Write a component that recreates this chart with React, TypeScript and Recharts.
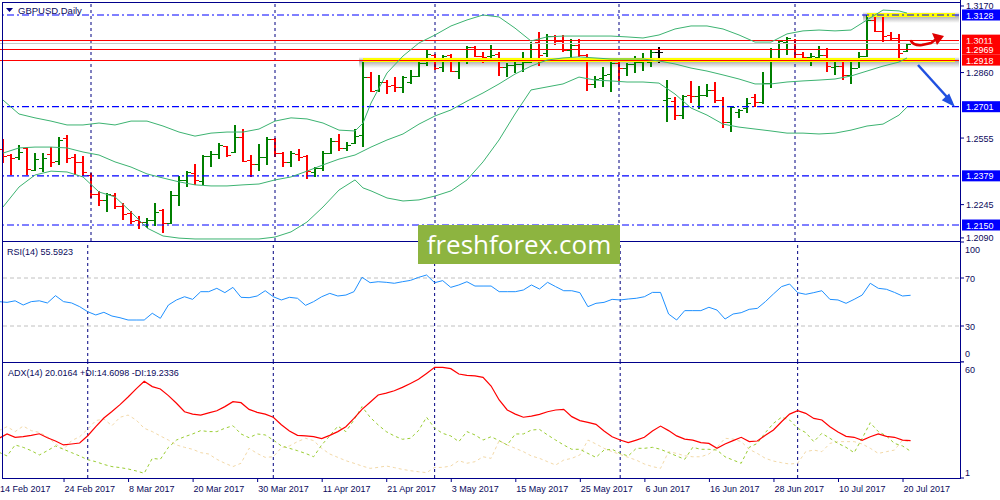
import React from 'react';
import { ComposedChart, Bar, Line, XAxis, YAxis, ReferenceLine, ReferenceArea } from 'recharts';

const FONT = '"Liberation Sans", Arial, sans-serif';
const FRAME = '#00008b';
const TEXT = '#0a0a5c';
const BULL = '#007f00';
const BEAR = '#ff0000';
const BB = '#3cb371';

// x axis labels, one every 8 daily bars
const tickLabels = [
  '14 Feb 2017', '24 Feb 2017', '8 Mar 2017', '20 Mar 2017', '30 Mar 2017',
  '11 Apr 2017', '21 Apr 2017', '3 May 2017', '15 May 2017', '25 May 2017',
  '6 Jun 2017', '16 Jun 2017', '28 Jun 2017', '10 Jul 2017', '20 Jul 2017',
];
// first bar of each month (period separators)
const monthStarts = [11, 34, 54, 77, 99];

const open = [
  1.2504, 1.2476, 1.2467, 1.2508, 1.2406, 1.2416, 1.2481, 1.2448, 1.2555, 1.2467,
  1.2443, 1.2383, 1.2294, 1.2266, 1.2290, 1.2238, 1.2206, 1.2173, 1.2164, 1.2173,
  1.2220, 1.2159, 1.2290, 1.2360, 1.2392, 1.2355, 1.2471, 1.2481, 1.2518, 1.2490,
  1.2560, 1.2453, 1.2434, 1.2467, 1.2551, 1.2485, 1.2443, 1.2481, 1.2471, 1.2397,
  1.2416, 1.2485, 1.2541, 1.2509, 1.2532, 1.2569, 1.2839, 1.2779, 1.2816, 1.2802,
  1.2793, 1.2816, 1.2844, 1.2905, 1.2942, 1.2886, 1.2942, 1.2867, 1.2918, 1.2979,
  1.2937, 1.2937, 1.2947, 1.2886, 1.2895, 1.2900, 1.2909, 1.3002, 1.2951, 1.3030,
  1.3007, 1.2965, 1.2988, 1.2942, 1.2807, 1.2835, 1.2853, 1.2905, 1.2881, 1.2900,
  1.2909, 1.2909, 1.2956, 1.2732, 1.2728, 1.2662, 1.2755, 1.2751, 1.2755, 1.2779,
  1.2732, 1.2630, 1.2676, 1.2695, 1.2746, 1.2723, 1.2811, 1.2928, 1.3002, 1.3012,
  1.2947, 1.2933, 1.2933, 1.2942, 1.2886, 1.2891, 1.2849, 1.2881, 1.2937, 1.3105,
  1.3054, 1.3035, 1.3021, 1.2961,
];
const high = [
  1.2551, 1.2481, 1.2523, 1.2513, 1.2485, 1.2485, 1.2513, 1.2560, 1.2569, 1.2481,
  1.2471, 1.2392, 1.2308, 1.2299, 1.2299, 1.2252, 1.2215, 1.2192, 1.2183, 1.2252,
  1.2224, 1.2308, 1.2378, 1.2402, 1.2434, 1.2476, 1.2495, 1.2532, 1.2518, 1.2616,
  1.2597, 1.2476, 1.2527, 1.2560, 1.2555, 1.2490, 1.2495, 1.2504, 1.2476, 1.2420,
  1.2495, 1.2555, 1.2574, 1.2537, 1.2597, 1.2909, 1.2863, 1.2849, 1.2825, 1.2839,
  1.2844, 1.2872, 1.2914, 1.2965, 1.2947, 1.2942, 1.2947, 1.2923, 1.2984, 1.2984,
  1.2956, 1.2988, 1.2956, 1.2905, 1.2923, 1.2956, 1.3002, 1.3049, 1.3040, 1.3035,
  1.3035, 1.3016, 1.3016, 1.2947, 1.2844, 1.2886, 1.2923, 1.2923, 1.2905, 1.2937,
  1.2951, 1.2970, 1.2979, 1.2825, 1.2746, 1.2755, 1.2821, 1.2797, 1.2807, 1.2816,
  1.2746, 1.2704, 1.2690, 1.2742, 1.2760, 1.2863, 1.2975, 1.3012, 1.3026, 1.3016,
  1.2956, 1.2951, 1.2984, 1.2975, 1.2909, 1.2918, 1.2909, 1.2956, 1.3126, 1.3119,
  1.3126, 1.3049, 1.3040, 1.2998,
];
const low = [
  1.2439, 1.2383, 1.2453, 1.2383, 1.2402, 1.2397, 1.2420, 1.2430, 1.2439, 1.2383,
  1.2378, 1.2276, 1.2238, 1.2210, 1.2224, 1.2173, 1.2155, 1.2131, 1.2136, 1.2145,
  1.2113, 1.2155, 1.2238, 1.2327, 1.2336, 1.2336, 1.2420, 1.2457, 1.2467, 1.2485,
  1.2443, 1.2374, 1.2402, 1.2430, 1.2467, 1.2420, 1.2420, 1.2448, 1.2364, 1.2374,
  1.2402, 1.2481, 1.2495, 1.2495, 1.2527, 1.2513, 1.2770, 1.2770, 1.2760, 1.2770,
  1.2765, 1.2807, 1.2839, 1.2891, 1.2872, 1.2863, 1.2863, 1.2830, 1.2900, 1.2933,
  1.2905, 1.2923, 1.2844, 1.2839, 1.2858, 1.2863, 1.2905, 1.2891, 1.2933, 1.2988,
  1.2956, 1.2928, 1.2933, 1.2774, 1.2788, 1.2793, 1.2770, 1.2821, 1.2844, 1.2858,
  1.2867, 1.2886, 1.2905, 1.2630, 1.2639, 1.2644, 1.2718, 1.2690, 1.2746, 1.2718,
  1.2602, 1.2583, 1.2649, 1.2672, 1.2700, 1.2714, 1.2788, 1.2918, 1.2942, 1.2918,
  1.2918, 1.2891, 1.2914, 1.2863, 1.2849, 1.2825, 1.2807, 1.2881, 1.2933, 1.3049,
  1.3002, 1.3012, 1.2928, 1.2956,
];
const close = [
  1.2471, 1.2462, 1.2490, 1.2411, 1.2457, 1.2462, 1.2443, 1.2546, 1.2462, 1.2443,
  1.2397, 1.2294, 1.2266, 1.2294, 1.2238, 1.2201, 1.2169, 1.2164, 1.2173, 1.2211,
  1.2159, 1.2290, 1.2360, 1.2397, 1.2360, 1.2471, 1.2481, 1.2523, 1.2476, 1.2560,
  1.2448, 1.2434, 1.2467, 1.2551, 1.2485, 1.2443, 1.2485, 1.2467, 1.2402, 1.2416,
  1.2485, 1.2541, 1.2509, 1.2523, 1.2565, 1.2839, 1.2774, 1.2816, 1.2797, 1.2793,
  1.2839, 1.2844, 1.2905, 1.2947, 1.2881, 1.2937, 1.2867, 1.2918, 1.2979, 1.2937,
  1.2933, 1.2942, 1.2886, 1.2895, 1.2900, 1.2909, 1.2998, 1.2942, 1.3030, 1.3007,
  1.2965, 1.2988, 1.2942, 1.2807, 1.2830, 1.2849, 1.2905, 1.2881, 1.2900, 1.2909,
  1.2914, 1.2956, 1.2956, 1.2742, 1.2662, 1.2751, 1.2751, 1.2755, 1.2779, 1.2732,
  1.2630, 1.2700, 1.2686, 1.2718, 1.2723, 1.2811, 1.2928, 1.3007, 1.3021, 1.2947,
  1.2933, 1.2937, 1.2942, 1.2891, 1.2891, 1.2849, 1.2881, 1.2937, 1.3105, 1.3054,
  1.3030, 1.3021, 1.2951, 1.2994,
];

const bbUpper = [
  1.2732, null, 1.2667, null, 1.2649, null, 1.2634, null, 1.2616, null,
  1.2616, null, 1.2625, null, 1.2616, null, 1.2634, null, 1.2634, null,
  1.2611, null, 1.2583, null, 1.2564, null, 1.2578, null, 1.2583, null,
  1.2583, null, 1.2597, null, 1.2634, null, 1.2649, null, 1.2644, null,
  1.2625, null, 1.2592, null, 1.2588, 1.2625, 1.2718, null, 1.2858, null,
  1.2937, null, 1.2998, null, 1.3035, null, 1.3077, null, 1.3105, null,
  1.3128, null, 1.3119, null, 1.3067, null, 1.3007, null, 1.3026, null,
  1.3030, null, 1.3030, null, 1.3030, null, 1.3030, null, 1.3026, null,
  1.3021, null, 1.3035, null, 1.3063, null, 1.3077, null, 1.3077, null,
  1.3063, null, 1.3035, null, 1.3002, null, 1.3002, null, 1.3040, null,
  1.3054, null, 1.3058, null, 1.3054, null, 1.3058, null, 1.3105, null,
  1.3151, null, 1.3147, 1.3137,
];
const bbMiddle = [
  1.2485, null, 1.2509, null, 1.2513, null, 1.2513, null, 1.2509, null,
  1.2490, null, 1.2476, null, 1.2444, null, 1.2420, null, 1.2388, null,
  1.2369, null, 1.2351, null, 1.2337, null, 1.2332, null, 1.2332, null,
  1.2337, null, 1.2341, null, 1.2360, null, 1.2374, null, 1.2401, null,
  1.2430, null, 1.2457, null, 1.2476, null, 1.2513, null, 1.2546, null,
  1.2574, null, 1.2620, null, 1.2658, null, 1.2686, null, 1.2727, null,
  1.2765, null, 1.2807, null, 1.2853, null, 1.2890, null, 1.2918, null,
  1.2928, null, 1.2933, null, 1.2928, null, 1.2923, null, 1.2923, null,
  1.2923, null, 1.2914, null, 1.2900, null, 1.2881, null, 1.2867, null,
  1.2849, null, 1.2830, null, 1.2807, null, 1.2807, null, 1.2816, null,
  1.2821, null, 1.2825, null, 1.2830, null, 1.2844, null, 1.2867, null,
  1.2890, null, 1.2909, 1.2928,
];
const bbLower = [
  1.2234, null, 1.2327, null, 1.2383, null, 1.2401, null, 1.2397, null,
  1.2374, null, 1.2304, null, 1.2281, null, 1.2211, null, 1.2136, null,
  1.2099, null, 1.2089, null, 1.2085, null, 1.2085, null, 1.2085, null,
  1.2085, null, 1.2085, null, 1.2094, null, 1.2118, null, 1.2164, null,
  1.2234, null, 1.2313, null, 1.2360, 1.2323, 1.2309, null, 1.2276, null,
  1.2262, null, 1.2267, null, 1.2285, null, 1.2309, null, 1.2360, null,
  1.2444, null, 1.2546, null, 1.2667, null, 1.2779, null, 1.2793, null,
  1.2807, null, 1.2839, null, 1.2825, null, 1.2821, null, 1.2816, null,
  1.2816, null, 1.2811, null, 1.2760, null, 1.2695, null, 1.2662, null,
  1.2620, null, 1.2606, null, 1.2597, null, 1.2588, null, 1.2578, null,
  1.2578, null, 1.2574, null, 1.2578, null, 1.2592, null, 1.2611, null,
  1.2620, null, 1.2662, 1.2699,
];

const rsi = [
  50.3, 49.7, 51.0, 47.5, 50.3, 51.0, 49.2, 55.3, 50.3, 49.2,
  46.1, 41.9, 39.2, 41.4, 38.3, 36.9, 35.0, 35.0, 35.0, 40.6,
  36.4, 47.5, 51.7, 54.4, 52.2, 58.6, 58.6, 61.4, 57.8, 62.2,
  53.9, 53.6, 55.0, 59.4, 54.4, 51.7, 53.9, 53.1, 47.2, 50.3,
  54.4, 57.2, 55.0, 55.8, 58.6, 70.6, 66.1, 66.9, 66.4, 65.6,
  66.9, 68.0, 70.5, 72.5, 66.1, 67.8, 62.2, 64.2, 66.9, 63.3,
  63.3, 63.3, 58.6, 58.6, 58.6, 60.0, 64.2, 60.8, 66.4, 62.8,
  59.4, 59.4, 57.8, 46.1, 48.9, 49.7, 52.2, 51.7, 52.5, 53.1,
  54.4, 58.0, 58.0, 40.0, 35.0, 42.8, 42.8, 42.8, 45.6, 43.3,
  35.8, 40.0, 41.1, 43.9, 44.7, 50.3, 56.7, 62.8, 65.0, 57.8,
  56.4, 57.8, 59.4, 52.2, 51.7, 48.9, 52.2, 55.8, 65.6, 61.4,
  60.6, 58.0, 55.0, 55.6,
];
const adx = [
  21.2, 23.4, 21.7, 22.0, 22.7, 23.5, 21.5, 19.8, 17.8, 18.3,
  18.8, 22.5, 27.1, 31.5, 34.8, 38.3, 42.2, 46.3, 50.2, 47.5,
  46.3, 42.9, 39.0, 34.7, 33.5, 33.0, 34.1, 35.2, 37.3, 39.8,
  39.3, 35.9, 34.4, 33.5, 31.9, 28.1, 24.9, 22.7, 22.4, 22.0,
  21.0, 22.7, 24.6, 27.1, 31.3, 35.9, 39.5, 43.2, 44.2, 45.4,
  47.1, 49.1, 51.2, 54.2, 57.3, 57.3, 56.6, 53.9, 53.2, 52.9,
  52.2, 47.8, 40.7, 35.6, 33.5, 31.9, 32.5, 33.4, 34.7, 35.6,
  35.9, 32.2, 30.2, 29.3, 28.3, 24.9, 22.0, 20.3, 19.0, 20.3,
  21.7, 24.9, 27.4, 25.1, 22.4, 20.8, 20.3, 19.0, 18.6, 16.1,
  18.3, 20.0, 21.7, 19.5, 19.8, 22.7, 25.4, 29.6, 33.5, 35.2,
  33.9, 31.3, 30.5, 27.1, 24.4, 22.2, 21.7, 20.2, 22.0, 23.4,
  22.2, 21.7, 20.3, 20.0,
];
const plusDi = [
  14.1, 12.2, 17.8, 16.6, 14.9, 12.7, 14.9, 17.3, 15.6, 13.9,
  12.2, 10.3, 9.3, 7.9, 6.8, 6.3, 5.6, 4.6, 3.4, 11.0,
  10.5, 16.6, 20.3, 22.0, 23.4, 25.1, 24.6, 24.6, 26.3, 27.6,
  23.4, 21.5, 23.4, 22.9, 20.3, 17.3, 16.1, 14.9, 13.5, 11.8,
  17.8, 22.4, 27.4, 24.6, 30.5, 37.3, 31.9, 28.0, 24.6, 22.4,
  20.7, 21.2, 25.1, 31.9, 26.3, 23.7, 22.4, 19.5, 24.6, 22.9,
  20.3, 22.0, 20.0, 17.8, 23.4, 23.4, 25.4, 25.7, 22.9, 20.3,
  17.8, 15.6, 15.6, 13.5, 11.5, 15.2, 15.6, 13.5, 12.2, 16.1,
  16.1, 16.6, 15.6, 13.9, 12.2, 10.5, 16.6, 15.6, 15.6, 15.2,
  11.8, 10.1, 8.5, 16.6, 18.6, 24.1, 28.8, 31.9, 30.5, 26.3,
  24.1, 19.5, 23.7, 21.2, 18.6, 16.6, 13.9, 21.2, 29.1, 24.6,
  22.4, 18.6, 17.3, 14.6,
];
const minusDi = [
  25.1, 27.1, 24.6, 27.4, 25.1, 24.2, 22.0, 18.3, 15.6, 20.0,
  22.0, 25.9, 30.2, 31.0, 27.6, 31.9, 33.0, 30.5, 26.3, 24.6,
  22.4, 20.3, 17.8, 16.6, 15.6, 13.9, 13.2, 10.5, 8.5, 6.8,
  8.5, 16.1, 13.5, 11.5, 11.8, 16.4, 17.3, 19.5, 21.2, 20.0,
  16.1, 13.2, 11.5, 9.8, 8.5, 7.1, 5.9, 6.4, 7.1, 6.3,
  5.4, 4.7, 4.2, 3.7, 6.4, 6.4, 7.1, 9.8, 8.5, 9.3,
  11.8, 11.0, 20.0, 17.8, 16.1, 14.4, 12.2, 11.0, 9.3, 7.6,
  10.1, 11.0, 12.7, 20.3, 18.3, 16.1, 14.4, 13.0, 11.5, 10.1,
  8.1, 6.8, 5.9, 14.4, 13.5, 12.3, 11.8, 11.8, 13.2, 16.6,
  21.2, 20.8, 19.5, 15.6, 13.5, 11.0, 9.6, 8.8, 8.1, 8.5,
  14.4, 15.2, 14.4, 18.6, 19.5, 19.5, 19.5, 18.3, 16.1, 13.5,
  14.4, 15.2, 20.3, 19.2,
];

const priceTicks = [1.209, 1.2245, 1.2555, 1.286, 1.317];
const redLevels = [1.3011, 1.2969, 1.2918];
const blueLevels = [1.3128, 1.2701, 1.2379, 1.215];
const bidLine = close[close.length - 1];

// 114 bars plus empty slots for the chart shift on the right
const SLOTS = 120;
const rows = Array.from({ length: SLOTS }, (_, i) =>
  i < open.length
    ? {
        i,
        range: [low[i], high[i]],
        o: open[i], h: high[i], l: low[i], c: close[i],
        up: bbUpper[i], mid: bbMiddle[i], dn: bbLower[i],
        rsi: rsi[i], adx: adx[i], pdi: plusDi[i], mdi: minusDi[i],
      }
    : { i }
);
const tickIdx = tickLabels.map((_, k) => k * 8);

const OhlcShape = (props: any) => {
  const { x, y, width, height, payload } = props;
  if (!payload || payload.c == null) return null;
  const { o, h, l, c } = payload;
  const top = Math.min(y, y + height);
  const span = Math.abs(height);
  const toY = (v: number) => Math.round(top + ((h - v) / (h - l)) * span);
  const cx = Math.round(x + width / 2);
  const color = c > o ? BULL : c < o ? BEAR : '#000000';
  const yTop = Math.round(top);
  const yBot = Math.round(top + span);
  return (
    <g shapeRendering="crispEdges">
      <rect x={cx - 1} y={yTop} width={2} height={Math.max(1, yBot - yTop)} fill={color} />
      <rect x={cx - 4} y={toY(o)} width={3} height={1} fill={color} />
      <rect x={cx + 1} y={toY(c)} width={3} height={1} fill={color} />
    </g>
  );
};

const PriceTick = (props: any) => {
  const { x, y, payload } = props;
  return (
    <g>
      <line x1={x + 2} x2={x + 5} y1={y} y2={y} stroke={FRAME} />
      <text x={x + 7} y={y + 3.5} fontSize={9} fill={TEXT} fontFamily={FONT}>
        {Number(payload.value).toFixed(4)}
      </text>
    </g>
  );
};

const makeOscTick = (topVal: number, bottomVal: number, bottomDy: number) => (props: any) => {
  const { x, y, payload } = props;
  const v = payload.value;
  const dy = v === topVal ? 7 : v === bottomVal ? bottomDy : 0;
  return (
    <g>
      <line x1={x + 2} x2={x + 5} y1={y} y2={y} stroke={FRAME} />
      <text x={x + 6} y={y + dy + 3.5} fontSize={9} fill={TEXT} fontFamily={FONT}>
        {v}
      </text>
    </g>
  );
};

const DateTick = (props: any) => {
  const { x, y, payload } = props;
  const label = tickLabels[Math.round(payload.value / 8)];
  return (
    <g>
      <line x1={x + 0.5} x2={x + 0.5} y1={y} y2={y + 4} stroke={FRAME} />
      <text x={x + 1} y={y + 14} fontSize={9} fill={TEXT} fontFamily={FONT}>
        {label}
      </text>
    </g>
  );
};

const boxLabel = (text: string, bg: string) => (props: any) => {
  const vb = props.viewBox || {};
  const x0 = (vb.x ?? 0) + (vb.width ?? 0);
  const yc = vb.y ?? 0;
  return (
    <g>
      <rect x={x0 + 3} y={yc - 5.5} width={42} height={11} fill={bg} />
      <text x={x0 + 7} y={yc + 3.5} fill="#ffffff" fontSize={9} fontFamily={FONT}>
        {text}
      </text>
    </g>
  );
};

const monthLines = monthStarts.map((m) => (
  <ReferenceLine key={`m${m}`} x={m} stroke="#000080" strokeDasharray="3 3" />
));

const App = () => {
  return (
    <div style={{ position: 'absolute', left: 0, top: 0, width: 1000, height: 500, background: '#ffffff', overflow: 'hidden' }}>
      {/* price panel */}
      <div style={{ position: 'absolute', left: -1, top: 0 }}>
        <ComposedChart width={1001} height={242} data={rows} margin={{ top: 2, right: 0, bottom: 1, left: 0 }} barCategoryGap={0} barGap={0}>
          <defs>
            <linearGradient id="glow" x1="0" y1="0" x2="0" y2="1">
              <stop offset="0%" stopColor="#707070" stopOpacity={0} />
              <stop offset="35%" stopColor="#707070" stopOpacity={0.6} />
              <stop offset="100%" stopColor="#707070" stopOpacity={0} />
            </linearGradient>
          </defs>
          <XAxis dataKey="i" hide />
          <YAxis
            orientation="right"
            width={41}
            domain={[1.20756, 1.31886]}
            allowDataOverflow
            ticks={priceTicks}
            interval={0}
            tick={PriceTick}
            tickSize={0}
            tickMargin={0}
            axisLine={false}
            tickLine={false}
          />
          {monthLines}
          <ReferenceArea x1={45} x2={119} y1={1.2881} y2={1.2932} fill="url(#glow)" fillOpacity={1} stroke="none" />
          <ReferenceArea x1={108} x2={119} y1={1.3091} y2={1.3142} fill="url(#glow)" fillOpacity={1} stroke="none" />
          <ReferenceLine segment={[{ x: 45, y: 1.2918 }, { x: 119, y: 1.2918 }]} stroke="#ffff00" strokeWidth={4} />
          <ReferenceLine segment={[{ x: 108, y: 1.3128 }, { x: 119, y: 1.3128 }]} stroke="#ffff00" strokeWidth={4} />
          <ReferenceLine y={bidLine} stroke="#c8c8c8" shapeRendering="crispEdges" />
          {blueLevels.map((v) => (
            <ReferenceLine key={`b${v}`} y={v} stroke="#0000ff" strokeWidth={1.2} strokeDasharray="7 3 2 3" label={boxLabel(v.toFixed(4), '#0000ff')} />
          ))}
          {redLevels.map((v) => (
            <ReferenceLine key={`r${v}`} y={v} stroke="#ff0000" shapeRendering="crispEdges" label={boxLabel(v.toFixed(4), '#ff0000')} />
          ))}
          <Line dataKey="up" stroke={BB} strokeWidth={1} dot={false} connectNulls isAnimationActive={false} />
          <Line dataKey="mid" stroke={BB} strokeWidth={1} dot={false} connectNulls isAnimationActive={false} />
          <Line dataKey="dn" stroke={BB} strokeWidth={1} dot={false} connectNulls isAnimationActive={false} />
          <Bar dataKey="range" barSize={8} shape={OhlcShape} isAnimationActive={false} />
        </ComposedChart>
      </div>

      {/* RSI panel */}
      <div style={{ position: 'absolute', left: -1, top: 240 }}>
        <ComposedChart width={1001} height={122} data={rows} margin={{ top: 2, right: 0, bottom: 0, left: 0 }}>
          <XAxis dataKey="i" hide />
          <YAxis
            orientation="right"
            width={41}
            domain={[0, 100]}
            allowDataOverflow
            ticks={[0, 30, 70, 100]}
            interval={0}
            tick={makeOscTick(100, 0, -9)}
            tickSize={0}
            tickMargin={0}
            axisLine={false}
            tickLine={false}
          />
          {monthLines}
          <ReferenceLine y={70} stroke="#c0c0c0" strokeDasharray="4 3" />
          <ReferenceLine y={30} stroke="#c0c0c0" strokeDasharray="4 3" />
          <Line dataKey="rsi" stroke="#1e90ff" strokeWidth={1} dot={false} isAnimationActive={false} />
        </ComposedChart>
      </div>

      {/* ADX panel */}
      <div style={{ position: 'absolute', left: -1, top: 360 }}>
        <ComposedChart width={1001} height={140} data={rows} margin={{ top: 2, right: 0, bottom: 0, left: 0 }}>
          <XAxis
            dataKey="i"
            height={22}
            ticks={tickIdx}
            interval={0}
            tick={DateTick}
            tickSize={0}
            tickMargin={0}
            axisLine={false}
            tickLine={false}
          />
          <YAxis
            orientation="right"
            width={41}
            domain={[1, 60]}
            allowDataOverflow
            ticks={[1, 60]}
            interval={0}
            tick={makeOscTick(60, 1, -5.5)}
            tickSize={0}
            tickMargin={0}
            axisLine={false}
            tickLine={false}
          />
          {monthLines}
          <Line dataKey="mdi" stroke="#f3d9a8" strokeWidth={1} strokeDasharray="3 3" dot={false} isAnimationActive={false} />
          <Line dataKey="pdi" stroke="#9acd32" strokeWidth={1} strokeDasharray="3 3" dot={false} isAnimationActive={false} />
          <Line dataKey="adx" stroke="#ff0000" strokeWidth={1.2} dot={false} isAnimationActive={false} />
        </ComposedChart>
      </div>

      {/* frame, captions, watermark and hand-drawn arrows */}
      <svg width={1000} height={500} style={{ position: 'absolute', left: 0, top: 0, pointerEvents: 'none' }}>
        <g stroke={FRAME} strokeWidth={1} shapeRendering="crispEdges">
          <line x1={2} y1={2.5} x2={961} y2={2.5} />
          <line x1={2.5} y1={2} x2={2.5} y2={479} />
          <line x1={2} y1={241.5} x2={961} y2={241.5} />
          <line x1={2} y1={362.5} x2={961} y2={362.5} />
          <line x1={2} y1={478.5} x2={961} y2={478.5} />
          <line x1={960.5} y1={0} x2={960.5} y2={479} />
        </g>
        <polygon points="6,8 13,8 9.5,12" fill="#000080" />
        <text x={18} y={14} fontSize={9.5} fill={TEXT} fontFamily={FONT}>GBPUSD,Daily</text>
        <text x={7} y={255} fontSize={9} fill={TEXT} fontFamily={FONT}>RSI(14) 55.5923</text>
        <text x={8} y={376} fontSize={9} fill={TEXT} fontFamily={FONT}>ADX(14) 20.0164 +DI:14.6098 -DI:19.2336</text>

        <rect x={418} y={225} width={202} height={39} fill="#8db440" />
        <text x={519} y={254} textAnchor="middle" fill="#ffffff" fontSize={26} fontFamily='"Open Sans", sans-serif'>
          freshforex.com
        </text>

        <path d="M911 41 Q914 46 922 45 L931 43 L935 40" fill="none" stroke="#e00000" strokeWidth={2.5} strokeLinecap="round" />
        <polygon points="944,36 932,33 937,45" fill="#e00000" />
        <line x1={918} y1={65} x2={947} y2={97} stroke="#2050e0" strokeWidth={2.5} />
        <polygon points="955,107 941.8,100.2 949.2,93.4" fill="#2050e0" />
      </svg>
    </div>
  );
};

export default App;
